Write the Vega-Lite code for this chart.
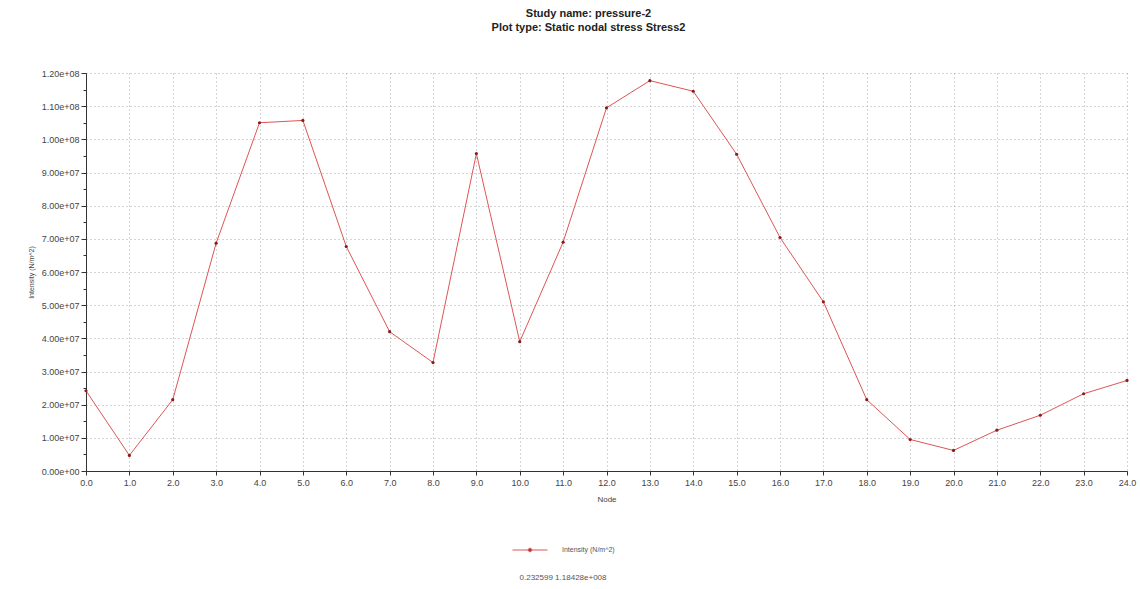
{
  "$schema": "https://vega.github.io/schema/vega-lite/v6.json",
  "width": 1041,
  "height": 398,
  "autosize": {"type": "none"},
  "padding": {"left": 86, "top": 73, "right": 13, "bottom": 118},
  "background": "white",
  "config": {"view": {"stroke": null}, "font": "Liberation Sans"},
  "title": {
    "text": ["Study name: pressure-2", "Plot type: Static nodal stress Stress2"],
    "fontSize": 11,
    "fontWeight": "bold",
    "color": "#222222",
    "lineHeight": 14,
    "offset": 36,
    "anchor": "middle",
    "dx": -18,
    "font": "Liberation Sans"
  },
  "data": {
    "values": [
      {"node": 0, "stress": 24200000},
      {"node": 1, "stress": 4700000},
      {"node": 2, "stress": 21500000},
      {"node": 3, "stress": 68700000},
      {"node": 4, "stress": 105000000},
      {"node": 5, "stress": 105700000},
      {"node": 6, "stress": 67700000},
      {"node": 7, "stress": 42000000},
      {"node": 8, "stress": 32700000},
      {"node": 9, "stress": 95700000},
      {"node": 10, "stress": 39000000},
      {"node": 11, "stress": 69000000},
      {"node": 12, "stress": 109500000},
      {"node": 13, "stress": 117700000},
      {"node": 14, "stress": 114500000},
      {"node": 15, "stress": 95500000},
      {"node": 16, "stress": 70400000},
      {"node": 17, "stress": 51000000},
      {"node": 18, "stress": 21500000},
      {"node": 19, "stress": 9500000},
      {"node": 20, "stress": 6200000},
      {"node": 21, "stress": 12300000},
      {"node": 22, "stress": 16800000},
      {"node": 23, "stress": 23300000},
      {"node": 24, "stress": 27300000}
    ]
  },
  "encoding": {
    "x": {
      "field": "node",
      "type": "quantitative",
      "scale": {"domain": [0, 24], "nice": false, "zero": false},
      "axis": {
        "title": "Node",
        "values": [0,1,2,3,4,5,6,7,8,9,10,11,12,13,14,15,16,17,18,19,20,21,22,23,24],
        "format": ".1f",
        "labelFlush": false,
        "labelOverlap": false,
        "grid": true,
        "gridDash": [1, 3],
        "gridColor": "#a8a8a8",
        "gridWidth": 1,
        "domainColor": "#333333",
        "tickColor": "#333333",
        "tickSize": 4,
        "labelFontSize": 9,
        "labelColor": "#444444",
        "labelPadding": 3,
        "titleFontSize": 8,
        "titleFontWeight": "normal",
        "titleColor": "#444444",
        "titlePadding": 8
      }
    },
    "y": {
      "field": "stress",
      "type": "quantitative",
      "scale": {"domain": [0, 120000000], "nice": false},
      "axis": {
        "title": "Intensity (N/m^2)",
        "values": [0,5000000,10000000,15000000,20000000,25000000,30000000,35000000,40000000,45000000,50000000,55000000,60000000,65000000,70000000,75000000,80000000,85000000,90000000,95000000,100000000,105000000,110000000,115000000,120000000],
        "labelExpr": "datum.value % 10000000 === 0 ? replace(format(datum.value, '.2e'), 'e+', 'e+0') : ''",
        "labelOverlap": false,
        "grid": true,
        "gridDash": [1, 3],
        "gridColor": "#a8a8a8",
        "gridOpacity": {"condition": {"test": "datum.value % 10000000 === 0", "value": 1}, "value": 0},
        "domainColor": "#333333",
        "tickColor": "#333333",
        "tickSize": {"condition": {"test": "datum.value % 10000000 === 0", "value": 5}, "value": 3},
        "labelFontSize": 9,
        "labelColor": "#444444",
        "labelPadding": 2,
        "titleFontSize": 7,
        "titleFontWeight": "normal",
        "titleColor": "#444444",
        "titlePadding": 7
      }
    }
  },
  "layer": [
    {
      "mark": {"type": "line", "strokeWidth": 1},
      "encoding": {
        "color": {
          "datum": "Intensity (N/m^2)",
          "type": "nominal",
          "scale": {"range": ["#dd5555"]},
          "legend": {
            "orient": "none",
            "legendX": 426,
            "legendY": 459,
            "title": "0.232599 1.18428e+008",
            "titleOrient": "bottom",
            "titleAnchor": "middle",
            "titleFontSize": 8,
            "titleFontWeight": "normal",
            "titleColor": "#555555",
            "titlePadding": 20,
            "labelFontSize": 7,
            "labelColor": "#555555",
            "labelOffset": 14,
            "symbolType": "M-1,0H1M-0.1,0A0.1,0.1 0 1,1 0.1,0A0.1,0.1 0 1,1 -0.1,0Z",
            "symbolSize": 1225,
            "symbolStrokeWidth": 1,
            "symbolFillColor": "#8b1a1a",
            "symbolStrokeColor": "#dd5555"
          }
        }
      }
    },
    {
      "mark": {"type": "point", "filled": true, "size": 10, "color": "#8b1a1a", "opacity": 1}
    }
  ]
}
